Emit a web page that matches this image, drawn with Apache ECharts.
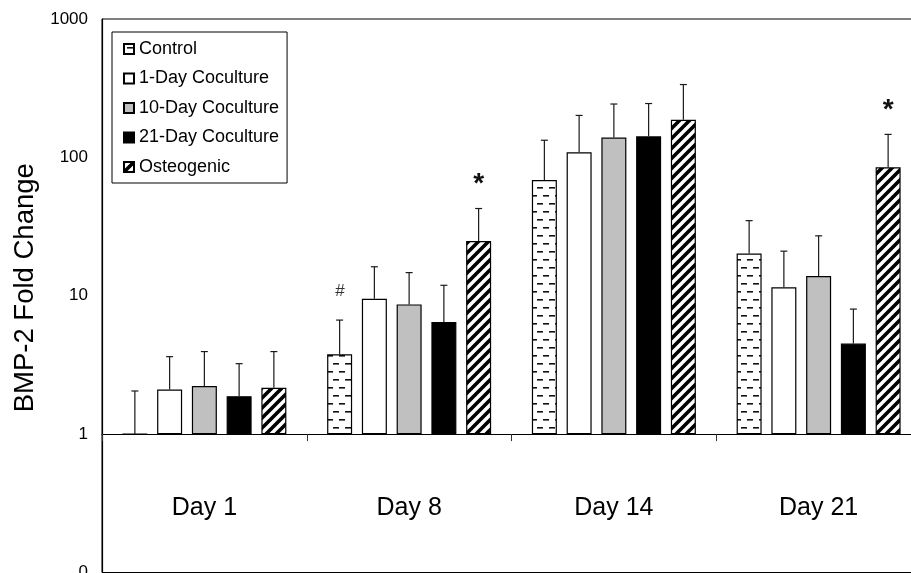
<!DOCTYPE html>
<html>
<head>
<meta charset="utf-8">
<script src="https://cdn.jsdelivr.net/npm/echarts@6/dist/echarts.min.js"></script>
<style>
  html, body { margin: 0; padding: 0; background: #fff; }
  #chart { width: 911px; height: 573px; }
</style>
</head>
<body>
<div id="chart"></div>
<script>
// ---- data ----
const categories = ['Day 1', 'Day 8', 'Day 14', 'Day 21'];
const seriesNames = ['Control', '1-Day Coculture', '10-Day Coculture', '21-Day Coculture', 'Osteogenic'];

const control      = [1.0, 3.78, 68.7, 20.2];
const oneDay       = [2.10, 9.52, 109, 11.5];
const tenDay       = [2.23, 8.66, 139, 13.9];
const twentyOneDay = [1.88, 6.46, 142, 4.51];
const osteogenic   = [2.16, 24.9, 187, 84.7];

// upper end of each error bar
const controlUpper      = [2.05, 6.67, 133, 34.9];
const oneDayUpper       = [3.63, 16.2, 201, 21.0];
const tenDayUpper       = [3.95, 14.7, 243, 27.1];
const twentyOneDayUpper = [3.23, 11.9, 245, 8.01];
const osteogenicUpper   = [3.95, 42.7, 336, 146.6];

// significance marks
const controlNotes    = ['', '#', '', ''];
const osteogenicNotes = ['', '*', '', '*'];

const yTicks = [0.1, 1, 10, 100, 1000];

// ---- styling ----
const FONT = '"Liberation Sans", Arial, sans-serif';
const BAR_W = 25;
const BAR_GAP = 9.75;

function dashPattern() {
  const c = document.createElement('canvas');
  c.width = 12; c.height = 16;
  const g = c.getContext('2d');
  g.fillStyle = '#fff'; g.fillRect(0, 0, 12, 16);
  g.fillStyle = '#111';
  g.fillRect(3, 3, 6, 1.6);
  g.fillRect(9, 11, 3, 1.6);
  g.fillRect(0, 11, 3, 1.6);
  return c;
}
function stripePattern() {
  const s = 10;
  const c = document.createElement('canvas');
  c.width = s; c.height = s;
  const g = c.getContext('2d');
  g.fillStyle = '#fff'; g.fillRect(0, 0, s, s);
  g.strokeStyle = '#000'; g.lineWidth = 3.6; g.lineCap = 'square';
  g.beginPath();
  g.moveTo(-s / 2, s / 2); g.lineTo(s / 2, -s / 2);
  g.moveTo(0, s); g.lineTo(s, 0);
  g.moveTo(s / 2, s * 1.5); g.lineTo(s * 1.5, s / 2);
  g.stroke();
  return c;
}

const fills = [
  { image: dashPattern(), repeat: 'repeat' },
  '#ffffff',
  '#c0c0c0',
  '#000000',
  { image: stripePattern(), repeat: 'repeat' }
];
const means = [control, oneDay, tenDay, twentyOneDay, osteogenic];
const uppers = [controlUpper, oneDayUpper, tenDayUpper, twentyOneDayUpper, osteogenicUpper];
const notes = [controlNotes, null, null, null, osteogenicNotes];

const series = [];
seriesNames.forEach((name, i) => {
  series.push({
    name: name,
    type: 'bar',
    barWidth: BAR_W,
    barGap: (BAR_GAP / BAR_W * 100) + '%',
    data: means[i],
    itemStyle: { color: fills[i], borderColor: '#000', borderWidth: 1.2 },
    emphasis: { disabled: true }
  });
});
seriesNames.forEach((name, i) => {
  series.push({
    name: name + ' error',
    type: 'custom',
    silent: true,
    z: 5,
    encode: { x: 0, y: [1, 2] },
    data: categories.map((c, k) => [k, means[i][k], uppers[i][k]]),
    renderItem: function (params, api) {
      const k = api.value(0);
      const off = (i - 2) * (BAR_W + BAR_GAP);
      const p0 = api.coord([k, api.value(1)]);
      const p1 = api.coord([k, api.value(2)]);
      const x = p0[0] + off;
      const children = [
        { type: 'line', shape: { x1: x, y1: p0[1], x2: x, y2: p1[1] },
          style: { stroke: '#1a1a1a', lineWidth: 1.2 } },
        { type: 'line', shape: { x1: x - 3.5, y1: p1[1], x2: x + 3.5, y2: p1[1] },
          style: { stroke: '#1a1a1a', lineWidth: 1.2 } }
      ];
      const note = notes[i] ? notes[i][params.dataIndex] : '';
      if (note === '#') {
        children.push({ type: 'text', style: { text: '#', x: x, y: p1[1] - 29,
          align: 'center', verticalAlign: 'middle', fontSize: 17, fontFamily: FONT,
          fontStyle: 'italic', fill: '#333' } });
      } else if (note === '*') {
        children.push({ type: 'text', style: { text: '*', x: x, y: p1[1] - 24,
          align: 'center', verticalAlign: 'middle', fontSize: 28, fontWeight: 'bold',
          fontFamily: FONT, fill: '#111' } });
      }
      return { type: 'group', children: children };
    }
  });
});

const chart = echarts.init(document.getElementById('chart'), null, { renderer: 'canvas' });
chart.setOption({
  animation: false,
  backgroundColor: '#fff',
  textStyle: { fontFamily: FONT },
  grid: {
    left: 102, top: 19, width: 819, height: 553.5,
    show: true, borderColor: '#000', borderWidth: 1, backgroundColor: 'transparent',
    outerBoundsMode: 'none', containLabel: false
  },
  legend: {
    data: seriesNames,
    orient: 'vertical',
    left: 112, top: 32,
    padding: [8, 8, 7, 11],
    itemWidth: 10, itemHeight: 10, itemGap: 11.5,
    borderColor: '#000', borderWidth: 1, backgroundColor: '#fff',
    icon: 'rect',
    selectedMode: false,
    textStyle: { fontSize: 18, color: '#000', fontFamily: FONT }
  },
  xAxis: {
    type: 'category',
    data: categories,
    position: 'bottom',
    offset: -138.4,
    axisLine: { onZero: false, lineStyle: { color: '#000', width: 1.2 } },
    axisTick: { show: true, length: 7, lineStyle: { color: '#333' } },
    axisLabel: { interval: 0, margin: 62, fontSize: 25, color: '#000', fontFamily: FONT },
    splitLine: { show: false }
  },
  yAxis: {
    type: 'log',
    logBase: 10,
    min: yTicks[0],
    max: yTicks[yTicks.length - 1],
    name: 'BMP-2 Fold Change',
    nameLocation: 'middle',
    nameGap: 63,
    nameMoveOverlap: false,
    nameTextStyle: { fontSize: 27.5, color: '#000', fontFamily: FONT, padding: [0, 0, 0, 16] },
    axisLine: { show: true, lineStyle: { color: '#000', width: 1.2 } },
    axisTick: { show: false },
    splitLine: { show: false },
    axisLabel: {
      margin: 14, fontSize: 17, color: '#000', fontFamily: FONT,
      formatter: function (v) { return v < 1 ? '0' : String(Math.round(v)); }
    }
  },
  series: series
});
</script>
</body>
</html>
